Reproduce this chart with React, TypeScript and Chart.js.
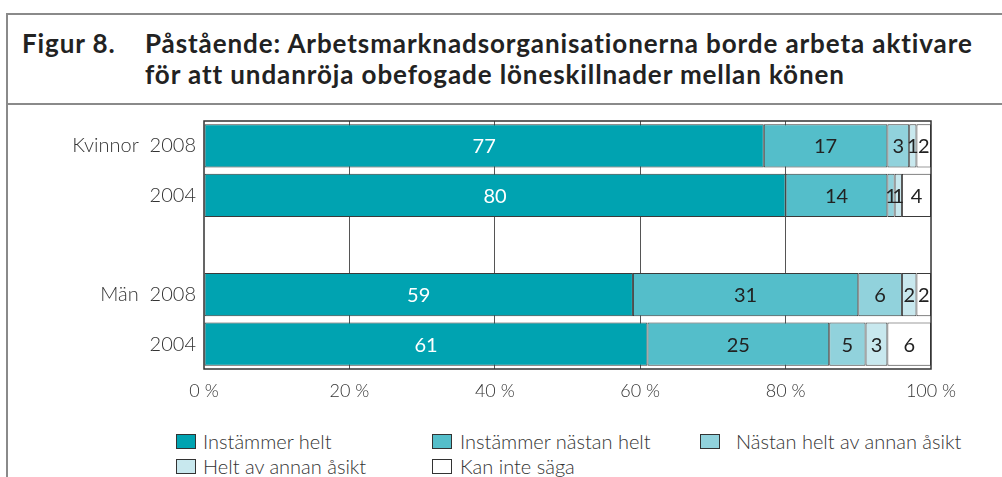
import React, { useEffect, useRef } from "react";
import { Chart, registerables } from "chart.js";

Chart.register(...registerables);

const categories = ["Kvinnor  2008", "2004", "", "Män  2008", "2004"];
const seriesNames = [
  "Instämmer helt",
  "Instämmer nästan helt",
  "Nästan helt av annan åsikt",
  "Helt av annan åsikt",
  "Kan inte säga",
];
const instammerHelt = [77, 80, null, 59, 61];
const instammerNastanHelt = [17, 14, null, 31, 25];
const nastanHeltAvAnnan = [3, 1, null, 6, 5];
const heltAvAnnan = [1, 1, null, 2, 3];
const kanInteSaga = [2, 4, null, 2, 6];
const xTicks = [0, 20, 40, 60, 80, 100];
const colors = ["#00A3B1", "#54BECA", "#91D2DC", "#C8E8EE", "#FFFFFF"];

const FONT = "Lato, 'Open Sans', sans-serif";

export default function App() {
  const ref = useRef<HTMLCanvasElement | null>(null);

  useEffect(() => {
    if (!ref.current) return;
    const seriesData = [instammerHelt, instammerNastanHelt, nastanHeltAvAnnan, heltAvAnnan, kanInteSaga];
    const frame = {
      id: "frame",
      afterDatasetsDraw(chart: any) {
        const { ctx, chartArea: a } = chart;
        ctx.save();
        ctx.strokeStyle = "#333";
        ctx.lineWidth = 1.5;
        ctx.strokeRect(a.left, a.top, a.right - a.left, a.bottom - a.top);
        ctx.restore();
      },
    };
    const labels = {
      id: "segLabels",
      afterDatasetsDraw(chart: any) {
        const ctx = chart.ctx;
        ctx.save();
        ctx.font = `20px ${FONT}`;
        ctx.textAlign = "center";
        ctx.textBaseline = "middle";
        chart.data.datasets.forEach((ds: any, di: number) => {
          const meta = chart.getDatasetMeta(di);
          meta.data.forEach((el: any, i: number) => {
            const v = ds.data[i];
            if (v == null || v <= 0) return;
            ctx.fillStyle = di === 0 ? "#ffffff" : "#222222";
            ctx.fillText(String(v), (el.x + el.base) / 2, el.y + 1);
          });
        });
        ctx.restore();
      },
    };
    const chart = new Chart(ref.current, {
      type: "bar",
      data: {
        labels: categories,
        datasets: seriesNames.map((n, i) => ({
          label: n,
          data: seriesData[i] as any,
          backgroundColor: colors[i],
          borderColor: "#3a3a3a",
          borderWidth: 1,
          borderSkipped: false,
          categoryPercentage: 1,
          barPercentage: 0.87,
        })),
      },
      options: {
        indexAxis: "y",
        animation: false,
        responsive: false,
        layout: { padding: { left: 0, right: 71, top: 11, bottom: 0 } },
        plugins: { legend: { display: false }, tooltip: { enabled: false } },
        scales: {
          x: {
            stacked: true,
            min: 0,
            max: 100,
            afterFit: (s: any) => { s.height = 41; s.paddingLeft = 0; s.paddingRight = 0; },
            afterBuildTicks: (s: any) => { s.ticks = xTicks.map((v) => ({ value: v })); },
            ticks: {
              padding: 11,
              color: "#333",
              font: { family: FONT, size: 18, weight: "300" as any },
              callback: (v: any) => `${v} %`,
            },
            grid: {
              drawTicks: false,
              color: (c: any) => (c.tick && (c.tick.value === 0 || c.tick.value === 100) ? "rgba(0,0,0,0)" : "#555"),
              lineWidth: 1,
            },
            border: { display: false },
          },
          y: {
            stacked: true,
            afterFit: (s: any) => { s.width = 204; s.paddingTop = 0; s.paddingBottom = 0; },
            ticks: { padding: 8, color: "#333", font: { family: FONT, size: 20, weight: "300" as any } },
            grid: { display: false, drawTicks: false },
            border: { display: false },
          },
        },
      },
      plugins: [frame, labels],
    });
    return () => chart.destroy();
  }, []);

  const legendItems = [
    { i: 0, x: 176, tx: 203, y: 431 },
    { i: 1, x: 432, tx: 460, y: 431 },
    { i: 2, x: 700, tx: 736, y: 431 },
    { i: 3, x: 176, tx: 203, y: 456 },
    { i: 4, x: 432, tx: 460, y: 456 },
  ];

  const titleStyle: React.CSSProperties = {
    position: "absolute",
    top: 28,
    fontWeight: 700,
    fontSize: 26,
    letterSpacing: 0.9,
    color: "#222",
    whiteSpace: "nowrap",
    lineHeight: "31px",
  };

  return (
    <div style={{ position: "absolute", left: 0, top: 0, width: 1002, height: 477, background: "#fff", overflow: "hidden", fontFamily: FONT }}>
      <div style={{ position: "absolute", left: 7, top: 13, width: 995, height: 2, background: "#8a8a8a" }} />
      <div style={{ position: "absolute", left: 6, top: 13, width: 2, height: 464, background: "#8a8a8a" }} />
      <div style={{ position: "absolute", left: 7, top: 103, width: 995, height: 2, background: "#8a8a8a" }} />
      <div style={{ ...titleStyle, left: 22 }}>Figur 8.</div>
      <div style={{ ...titleStyle, left: 145 }}>
        Påstående: Arbetsmarknadsorganisationerna borde arbeta aktivare
        <br />
        för att undanröja obefogade löneskillnader mellan könen
      </div>
      <canvas ref={ref} width={1002} height={300} style={{ position: "absolute", left: 0, top: 110, width: 1002, height: 300 }} />
      {legendItems.map((it) => (
        <React.Fragment key={it.i}>
          <span style={{ position: "absolute", left: it.x, top: it.y + 3, width: 18, height: 13, background: colors[it.i], border: "1px solid #333" }} />
          <span style={{ position: "absolute", left: it.tx, top: it.y - 2, fontSize: 20, fontWeight: 300, color: "#333", whiteSpace: "nowrap", lineHeight: "24px" }}>{seriesNames[it.i]}</span>
        </React.Fragment>
      ))}
    </div>
  );
}
